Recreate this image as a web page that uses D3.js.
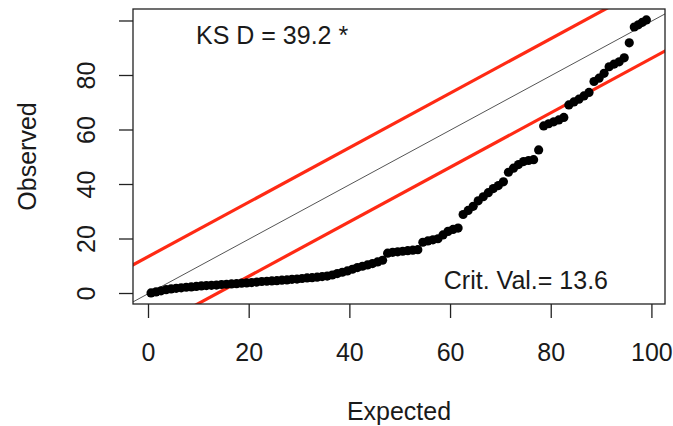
<!DOCTYPE html>
<html>
<head>
<meta charset="utf-8">
<script src="https://cdn.jsdelivr.net/npm/d3@7"></script>
<style>
  body { margin: 0; background: #fff; }
  text { font-family: "Liberation Sans", Arial, sans-serif; fill: #1a1a1a; }
</style>
</head>
<body>
<div id="chart"></div>
<script>
// expected (uniform quantiles) vs observed, sorted
var expected = [0.5, 1.5, 2.5, 3.5, 4.5, 5.5, 6.5, 7.5, 8.5, 9.5, 10.5, 11.5, 12.5, 13.5, 14.5, 15.5, 16.5, 17.5, 18.5, 19.5,
  20.5, 21.5, 22.5, 23.5, 24.5, 25.5, 26.5, 27.5, 28.5, 29.5, 30.5, 31.5, 32.5, 33.5, 34.5, 35.5, 36.5, 37.5, 38.5, 39.5,
  40.5, 41.5, 42.5, 43.5, 44.5, 45.5, 46.5, 47.5, 48.5, 49.5, 50.5, 51.5, 52.5, 53.5, 54.5, 55.5, 56.5, 57.5, 58.5, 59.5,
  60.5, 61.5, 62.5, 63.5, 64.5, 65.5, 66.5, 67.5, 68.5, 69.5, 70.5, 71.5, 72.5, 73.5, 74.5, 75.5, 76.5, 77.5, 78.5, 79.5,
  80.5, 81.5, 82.5, 83.5, 84.5, 85.5, 86.5, 87.5, 88.5, 89.5, 90.5, 91.5, 92.5, 93.5, 94.5, 95.5, 96.5, 97.3, 98.1, 98.9];
var observed = [0.2, 0.6, 1.0, 1.4, 1.7, 1.9, 2.1, 2.3, 2.4, 2.6, 2.8, 2.9, 3.0, 3.1, 3.3, 3.4, 3.5, 3.6, 3.8, 3.9,
  4.0, 4.2, 4.4, 4.5, 4.6, 4.7, 4.9, 5.0, 5.2, 5.3, 5.5, 5.7, 5.8, 6.0, 6.2, 6.4, 6.8, 7.3, 7.8, 8.3,
  8.9, 9.5, 10.0, 10.5, 11.0, 11.6, 12.2, 14.8, 15.1, 15.3, 15.5, 15.7, 15.9, 16.1, 18.8, 19.3, 19.7, 20.1, 21.5, 22.8,
  23.5, 24.0, 29.0, 30.5, 32.0, 34.0, 35.5, 37.0, 38.5, 39.6, 41.0, 44.5, 46.0, 47.3, 48.4, 48.8, 49.1, 52.7, 61.5, 62.3,
  63.0, 63.7, 64.6, 69.2, 70.3, 71.3, 72.5, 73.8, 77.8, 79.0, 80.8, 83.2, 84.2, 85.0, 86.5, 92.0, 97.8, 98.6, 99.5, 100.4];
var xTicks = [0, 20, 40, 60, 80, 100];
var yTicks = [0, 20, 40, 60, 80, 100];
var yTickLabels = ["0", "20", "40", "60", "80", ""];
var critVal = 13.6;
var ksD = 39.2;

var W = 673, H = 426;
var box = { left: 133, right: 665, top: 9, bottom: 304 };
var fs = 25;

var svg = d3.select("#chart").append("svg").attr("width", W).attr("height", H);

var xScale = d3.scaleLinear().domain([-3.08, 102.6]).range([box.left, box.right]);
var yScale = d3.scaleLinear().domain([-3.85, 104.4]).range([box.bottom, box.top]);

svg.append("clipPath").attr("id", "plotclip").append("rect")
  .attr("x", box.left).attr("y", box.top).attr("width", box.right - box.left).attr("height", box.bottom - box.top);

var plot = svg.append("g").attr("clip-path", "url(#plotclip)");

// reference lines: y = x, and y = x +/- critical value
var x0 = -10, x1 = 120;
plot.append("line")
  .attr("x1", xScale(x0)).attr("y1", yScale(x0)).attr("x2", xScale(x1)).attr("y2", yScale(x1))
  .attr("stroke", "#555").attr("stroke-width", 1);
[critVal, -critVal].forEach(function (off) {
  plot.append("line")
    .attr("x1", xScale(x0)).attr("y1", yScale(x0 + off)).attr("x2", xScale(x1)).attr("y2", yScale(x1 + off))
    .attr("stroke", "#ff2a14").attr("stroke-width", 3.2);
});

// points
plot.selectAll(".pt").data(d3.range(expected.length)).join("circle").attr("class", "pt")
  .attr("cx", function (i) { return xScale(expected[i]); })
  .attr("cy", function (i) { return yScale(observed[i]); })
  .attr("r", 4.6).attr("fill", "#000");

// box
svg.append("rect").attr("x", box.left).attr("y", box.top)
  .attr("width", box.right - box.left).attr("height", box.bottom - box.top)
  .attr("fill", "none").attr("stroke", "#222").attr("stroke-width", 1.3);

// x axis
var xAxis = svg.append("g");
xAxis.selectAll("line").data(xTicks).join("line")
  .attr("x1", function (d) { return xScale(d); }).attr("x2", function (d) { return xScale(d); })
  .attr("y1", box.bottom).attr("y2", box.bottom + 14).attr("stroke", "#222").attr("stroke-width", 1.3);
xAxis.selectAll("text").data(xTicks).join("text")
  .attr("x", function (d) { return xScale(d); }).attr("y", 361)
  .attr("text-anchor", "middle").attr("font-size", fs).text(function (d) { return d; });

// y axis
var yAxis = svg.append("g");
yAxis.selectAll("line").data(yTicks).join("line")
  .attr("y1", function (d) { return yScale(d); }).attr("y2", function (d) { return yScale(d); })
  .attr("x1", box.left - 14).attr("x2", box.left).attr("stroke", "#222").attr("stroke-width", 1.3);
yAxis.selectAll("text").data(yTicks).join("text")
  .attr("transform", function (d) { return "translate(95," + yScale(d) + ") rotate(-90)"; })
  .attr("text-anchor", "middle").attr("font-size", fs).text(function (d, i) { return yTickLabels[i]; });

// axis titles
svg.append("text").attr("x", (box.left + box.right) / 2).attr("y", 420)
  .attr("text-anchor", "middle").attr("font-size", fs).text("Expected");
svg.append("text").attr("transform", "translate(36," + (box.top + box.bottom) / 2 + ") rotate(-90)")
  .attr("text-anchor", "middle").attr("font-size", fs).text("Observed");

// annotations
svg.append("text").attr("x", 196).attr("y", 43.5).attr("font-size", fs).text("KS D = " + ksD + " *");
svg.append("text").attr("x", 608).attr("y", 288.5).attr("text-anchor", "end").attr("font-size", fs).text("Crit. Val.= " + critVal);
</script>
</body>
</html>
